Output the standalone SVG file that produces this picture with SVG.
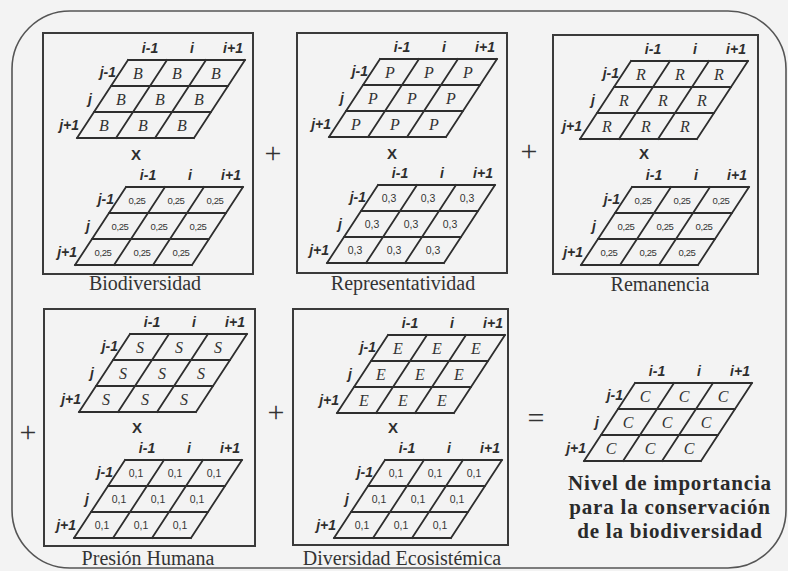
<svg xmlns="http://www.w3.org/2000/svg" xmlns:xlink="http://www.w3.org/1999/xlink" width="788" height="571" viewBox="0 0 788 571">
<style>
.bg{fill:#f3f3f3}
.outer{fill:none;stroke:#555;stroke-width:1.6}
.box{fill:none;stroke:#3a3a3a;stroke-width:2}
.grid{fill:none;stroke:#2e2e2e;stroke-width:1.8;stroke-linecap:square}
.ax{font-family:"Liberation Sans",Arial,sans-serif;font-weight:bold;font-style:italic;font-size:14px;fill:#2e2e2e}
.axr{font-family:"Liberation Sans",Arial,sans-serif;font-weight:bold;font-style:italic;font-size:14px;fill:#2e2e2e;text-anchor:end}
.ltr{font-family:"Liberation Serif","Times New Roman",serif;font-style:italic;font-size:16px;fill:#333;text-anchor:middle}
.num{font-family:"Liberation Sans",Arial,sans-serif;font-size:10.5px;fill:#333;text-anchor:middle}
.num9{font-family:"Liberation Sans",Arial,sans-serif;font-size:9.5px;fill:#333;text-anchor:middle;letter-spacing:-0.4px}
.x{font-family:"Liberation Sans",Arial,sans-serif;font-weight:bold;font-size:15px;fill:#2e2e2e;text-anchor:middle}
.lbl{font-family:"Liberation Serif","Times New Roman",serif;font-size:20px;fill:#333;text-anchor:middle}
.op{font-family:"Liberation Serif","Times New Roman",serif;font-size:30px;fill:#333;text-anchor:middle}
.ttl{font-family:"Liberation Serif","Times New Roman",serif;font-weight:bold;font-size:21px;letter-spacing:0.8px;fill:#2a2a2a;text-anchor:middle}
</style>
<defs>
<path id="g" class="grid" d="M0,0 H117 M-17,26 H100 M-34,52 H83 M-51,78 H66 M0,0 L-51,78 M39,0 L-12,78 M78,0 L27,78 M117,0 L66,78"/>
</defs>
<rect class="bg" x="0" y="0" width="788" height="571"/>
<rect class="outer" x="12" y="11" width="774" height="557" rx="58" ry="58"/>

<g id="operators">
<text class="op" x="273" y="163">+</text>
<text class="op" x="529" y="161">+</text>
<text class="op" x="28" y="442">+</text>
<text class="op" x="276" y="422">+</text>
<text class="op" x="536" y="428">=</text>
</g>

<g id="biodiversidad">
<rect class="box" x="43" y="33" width="210" height="241"/>
<g transform="translate(128,60)">
<use xlink:href="#g"/>
<text class="ax" x="22" y="-7" text-anchor="middle">i-1</text><text class="ax" x="64" y="-7" text-anchor="middle">i</text><text class="ax" x="105" y="-7" text-anchor="middle">i+1</text>
<text class="axr" x="-12" y="17">j-1</text><text class="axr" x="-36" y="44">j</text><text class="axr" x="-49" y="70">j+1</text>
<text class="ltr" x="10" y="19">B</text><text class="ltr" x="49" y="19">B</text><text class="ltr" x="88" y="19">B</text>
<text class="ltr" x="-7" y="45">B</text><text class="ltr" x="32" y="45">B</text><text class="ltr" x="71" y="45">B</text>
<text class="ltr" x="-24" y="71">B</text><text class="ltr" x="15" y="71">B</text><text class="ltr" x="54" y="71">B</text>
</g>
<text class="x" x="136" y="160">X</text>
<g transform="translate(126,187)">
<use xlink:href="#g"/>
<text class="ax" x="22" y="-7" text-anchor="middle">i-1</text><text class="ax" x="64" y="-7" text-anchor="middle">i</text><text class="ax" x="105" y="-7" text-anchor="middle">i+1</text>
<text class="axr" x="-12" y="17">j-1</text><text class="axr" x="-36" y="44">j</text><text class="axr" x="-49" y="70">j+1</text>
<text class="num9" x="11" y="16.5">0,25</text><text class="num9" x="50" y="16.5">0,25</text><text class="num9" x="89" y="16.5">0,25</text>
<text class="num9" x="-6" y="42.5">0,25</text><text class="num9" x="33" y="42.5">0,25</text><text class="num9" x="72" y="42.5">0,25</text>
<text class="num9" x="-23" y="68.5">0,25</text><text class="num9" x="16" y="68.5">0,25</text><text class="num9" x="55" y="68.5">0,25</text>
</g>
<text class="lbl" x="145" y="290">Biodiversidad</text>
</g>

<g id="representatividad">
<rect class="box" x="297" y="33" width="210" height="240"/>
<g transform="translate(380,59)">
<use xlink:href="#g"/>
<text class="ax" x="22" y="-7" text-anchor="middle">i-1</text><text class="ax" x="64" y="-7" text-anchor="middle">i</text><text class="ax" x="105" y="-7" text-anchor="middle">i+1</text>
<text class="axr" x="-12" y="17">j-1</text><text class="axr" x="-36" y="44">j</text><text class="axr" x="-49" y="70">j+1</text>
<text class="ltr" x="10" y="19">P</text><text class="ltr" x="49" y="19">P</text><text class="ltr" x="88" y="19">P</text>
<text class="ltr" x="-7" y="45">P</text><text class="ltr" x="32" y="45">P</text><text class="ltr" x="71" y="45">P</text>
<text class="ltr" x="-24" y="71">P</text><text class="ltr" x="15" y="71">P</text><text class="ltr" x="54" y="71">P</text>
</g>
<text class="x" x="392" y="159">X</text>
<g transform="translate(378,185)">
<use xlink:href="#g"/>
<text class="ax" x="22" y="-7" text-anchor="middle">i-1</text><text class="ax" x="64" y="-7" text-anchor="middle">i</text><text class="ax" x="105" y="-7" text-anchor="middle">i+1</text>
<text class="axr" x="-12" y="17">j-1</text><text class="axr" x="-36" y="44">j</text><text class="axr" x="-49" y="70">j+1</text>
<text class="num" x="11" y="17">0,3</text><text class="num" x="50" y="17">0,3</text><text class="num" x="89" y="17">0,3</text>
<text class="num" x="-6" y="43">0,3</text><text class="num" x="33" y="43">0,3</text><text class="num" x="72" y="43">0,3</text>
<text class="num" x="-23" y="69">0,3</text><text class="num" x="16" y="69">0,3</text><text class="num" x="55" y="69">0,3</text>
</g>
<text class="lbl" x="403" y="290">Representatividad</text>
</g>

<g id="remanencia">
<rect class="box" x="553" y="35" width="205" height="239"/>
<g transform="translate(631,61)">
<use xlink:href="#g"/>
<text class="ax" x="22" y="-7" text-anchor="middle">i-1</text><text class="ax" x="64" y="-7" text-anchor="middle">i</text><text class="ax" x="105" y="-7" text-anchor="middle">i+1</text>
<text class="axr" x="-12" y="17">j-1</text><text class="axr" x="-36" y="44">j</text><text class="axr" x="-49" y="70">j+1</text>
<text class="ltr" x="10" y="19">R</text><text class="ltr" x="49" y="19">R</text><text class="ltr" x="88" y="19">R</text>
<text class="ltr" x="-7" y="45">R</text><text class="ltr" x="32" y="45">R</text><text class="ltr" x="71" y="45">R</text>
<text class="ltr" x="-24" y="71">R</text><text class="ltr" x="15" y="71">R</text><text class="ltr" x="54" y="71">R</text>
</g>
<text class="x" x="644" y="159">X</text>
<g transform="translate(632,187)">
<use xlink:href="#g"/>
<text class="ax" x="22" y="-7" text-anchor="middle">i-1</text><text class="ax" x="64" y="-7" text-anchor="middle">i</text><text class="ax" x="105" y="-7" text-anchor="middle">i+1</text>
<text class="axr" x="-12" y="17">j-1</text><text class="axr" x="-36" y="44">j</text><text class="axr" x="-49" y="70">j+1</text>
<text class="num9" x="11" y="16.5">0,25</text><text class="num9" x="50" y="16.5">0,25</text><text class="num9" x="89" y="16.5">0,25</text>
<text class="num9" x="-6" y="42.5">0,25</text><text class="num9" x="33" y="42.5">0,25</text><text class="num9" x="72" y="42.5">0,25</text>
<text class="num9" x="-23" y="68.5">0,25</text><text class="num9" x="16" y="68.5">0,25</text><text class="num9" x="55" y="68.5">0,25</text>
</g>
<text class="lbl" x="660" y="291">Remanencia</text>
</g>

<g id="presion-humana">
<rect class="box" x="44" y="309" width="211" height="237"/>
<g transform="translate(130,334)">
<use xlink:href="#g"/>
<text class="ax" x="22" y="-7" text-anchor="middle">i-1</text><text class="ax" x="64" y="-7" text-anchor="middle">i</text><text class="ax" x="105" y="-7" text-anchor="middle">i+1</text>
<text class="axr" x="-12" y="17">j-1</text><text class="axr" x="-36" y="44">j</text><text class="axr" x="-49" y="70">j+1</text>
<text class="ltr" x="10" y="19">S</text><text class="ltr" x="49" y="19">S</text><text class="ltr" x="88" y="19">S</text>
<text class="ltr" x="-7" y="45">S</text><text class="ltr" x="32" y="45">S</text><text class="ltr" x="71" y="45">S</text>
<text class="ltr" x="-24" y="71">S</text><text class="ltr" x="15" y="71">S</text><text class="ltr" x="54" y="71">S</text>
</g>
<text class="x" x="137" y="433">X</text>
<g transform="translate(125,460)">
<use xlink:href="#g"/>
<text class="ax" x="22" y="-7" text-anchor="middle">i-1</text><text class="ax" x="64" y="-7" text-anchor="middle">i</text><text class="ax" x="105" y="-7" text-anchor="middle">i+1</text>
<text class="axr" x="-12" y="17">j-1</text><text class="axr" x="-36" y="44">j</text><text class="axr" x="-49" y="70">j+1</text>
<text class="num" x="11" y="17">0,1</text><text class="num" x="50" y="17">0,1</text><text class="num" x="89" y="17">0,1</text>
<text class="num" x="-6" y="43">0,1</text><text class="num" x="33" y="43">0,1</text><text class="num" x="72" y="43">0,1</text>
<text class="num" x="-23" y="69">0,1</text><text class="num" x="16" y="69">0,1</text><text class="num" x="55" y="69">0,1</text>
</g>
<text class="lbl" x="148" y="565">Presión Humana</text>
</g>

<g id="diversidad-ecosistemica">
<rect class="box" x="293" y="309" width="215" height="236"/>
<g transform="translate(388,335)">
<use xlink:href="#g"/>
<text class="ax" x="22" y="-7" text-anchor="middle">i-1</text><text class="ax" x="64" y="-7" text-anchor="middle">i</text><text class="ax" x="105" y="-7" text-anchor="middle">i+1</text>
<text class="axr" x="-12" y="17">j-1</text><text class="axr" x="-36" y="44">j</text><text class="axr" x="-49" y="70">j+1</text>
<text class="ltr" x="10" y="19">E</text><text class="ltr" x="49" y="19">E</text><text class="ltr" x="88" y="19">E</text>
<text class="ltr" x="-7" y="45">E</text><text class="ltr" x="32" y="45">E</text><text class="ltr" x="71" y="45">E</text>
<text class="ltr" x="-24" y="71">E</text><text class="ltr" x="15" y="71">E</text><text class="ltr" x="54" y="71">E</text>
</g>
<text class="x" x="393" y="433">X</text>
<g transform="translate(385,460)">
<use xlink:href="#g"/>
<text class="ax" x="22" y="-7" text-anchor="middle">i-1</text><text class="ax" x="64" y="-7" text-anchor="middle">i</text><text class="ax" x="105" y="-7" text-anchor="middle">i+1</text>
<text class="axr" x="-12" y="17">j-1</text><text class="axr" x="-36" y="44">j</text><text class="axr" x="-49" y="70">j+1</text>
<text class="num" x="11" y="17">0,1</text><text class="num" x="50" y="17">0,1</text><text class="num" x="89" y="17">0,1</text>
<text class="num" x="-6" y="43">0,1</text><text class="num" x="33" y="43">0,1</text><text class="num" x="72" y="43">0,1</text>
<text class="num" x="-23" y="69">0,1</text><text class="num" x="16" y="69">0,1</text><text class="num" x="55" y="69">0,1</text>
</g>
<text class="lbl" x="402" y="565">Diversidad Ecosistémica</text>
</g>

<g id="resultado">
<g transform="translate(635,383)">
<use xlink:href="#g"/>
<text class="ax" x="22" y="-7" text-anchor="middle">i-1</text><text class="ax" x="64" y="-7" text-anchor="middle">i</text><text class="ax" x="105" y="-7" text-anchor="middle">i+1</text>
<text class="axr" x="-12" y="17">j-1</text><text class="axr" x="-36" y="44">j</text><text class="axr" x="-49" y="70">j+1</text>
<text class="ltr" x="10" y="19">C</text><text class="ltr" x="49" y="19">C</text><text class="ltr" x="88" y="19">C</text>
<text class="ltr" x="-7" y="45">C</text><text class="ltr" x="32" y="45">C</text><text class="ltr" x="71" y="45">C</text>
<text class="ltr" x="-24" y="71">C</text><text class="ltr" x="15" y="71">C</text><text class="ltr" x="54" y="71">C</text>
</g>
<text class="ttl" x="670" y="490">Nivel de importancia</text>
<text class="ttl" x="670" y="514">para la conservación</text>
<text class="ttl" x="670" y="538">de la biodiversidad</text>
</g>
</svg>
